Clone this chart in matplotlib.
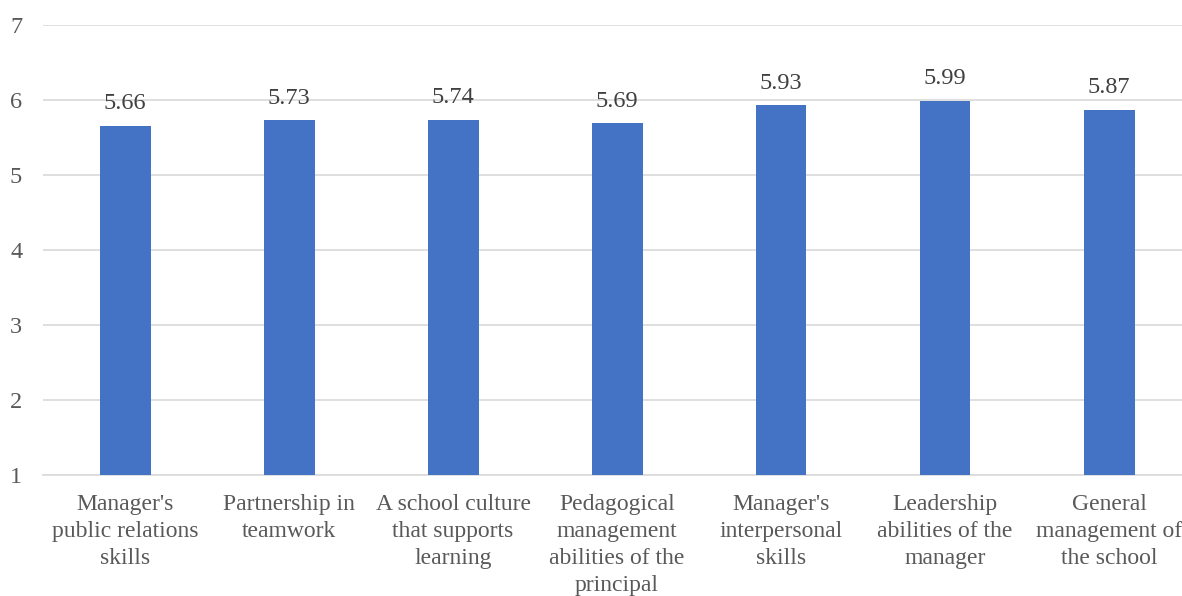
import numpy as np
from matplotlib import pyplot as plt

categories = ["Manager's\npublic relations\nskills",
              "Partnership in\nteamwork",
              "A school culture\nthat supports\nlearning",
              "Pedagogical\nmanagement\nabilities of the\nprincipal",
              "Manager's\ninterpersonal\nskills",
              "Leadership\nabilities of the\nmanager",
              "General\nmanagement of\nthe school"]
values = [5.66, 5.73, 5.74, 5.69, 5.93, 5.99, 5.87]
yticks = [1, 2, 3, 4, 5, 6, 7]

plt.rcParams['font.family'] = ['Liberation Serif', 'DejaVu Serif']

fig = plt.figure(figsize=(11.82, 5.96), dpi=100)
# axes spans from x=43px, one category = 164px
ax = fig.add_axes([43/1182, (596-475)/596, 1148/1182, 450/596])
x = np.arange(len(categories))
ax.bar(x, np.array(values) - 1, bottom=1, width=51/164, color='#4472C4', zorder=3)

for xi, v in zip(x, values):
    ax.text(xi, v + 0.15, f'{v:.2f}', ha='center', va='bottom', fontsize=17.5, color='#404040')

ax.set_xlim(-0.5, 6.5)
ax.set_ylim(1, 7)
ax.set_yticks(yticks)
ax.set_xticks(x)
ax.set_xticklabels(categories, fontsize=17, color='#595959', linespacing=1.36)
ax.tick_params(axis='y', labelsize=17.5, labelcolor='#595959', length=0, pad=15)
ax.tick_params(axis='x', length=0, pad=14)
ax.get_xticklabels()[-1].set_x(6 - 0.015)
ax.grid(axis='y', color='#D9D9D9', linewidth=1.2, zorder=0)
for s in ['top', 'right', 'left']:
    ax.spines[s].set_visible(False)
ax.spines['bottom'].set_color('#D9D9D9')
ax.spines['bottom'].set_linewidth(1.2)

plt.savefig('out.png', dpi=100)
